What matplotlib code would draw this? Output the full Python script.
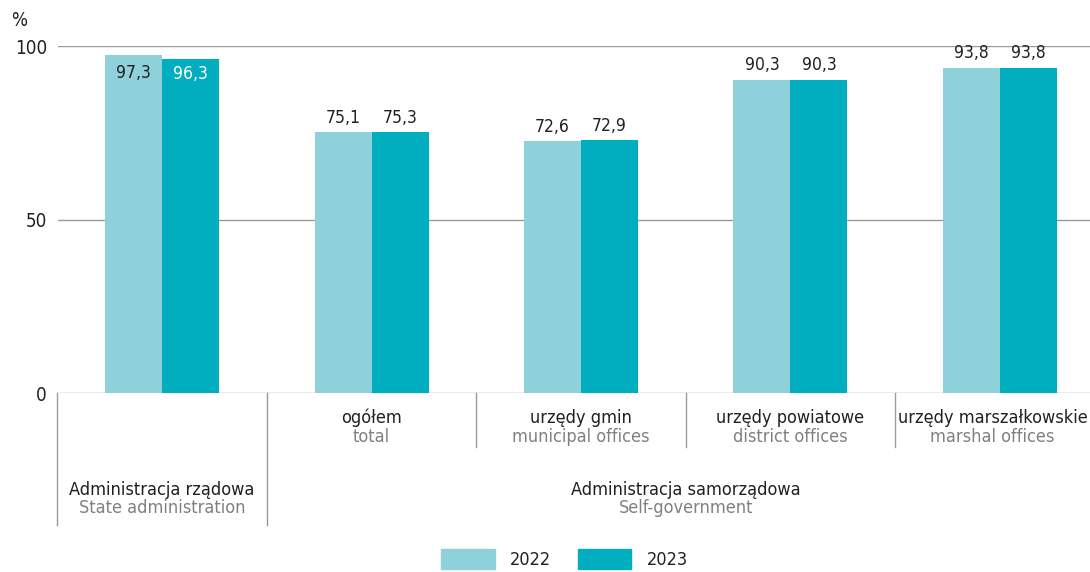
#! /usr/bin/env python3

"""Grouped bar chart: share of offices, 2022 vs 2023"""

import matplotlib
matplotlib.use("Agg")
import matplotlib.pyplot as plt
from matplotlib.patches import Patch

# data
categories_pl = ["", "ogółem", "urzędy gmin", "urzędy powiatowe", "urzędy marszałkowskie"]
categories_en = ["", "total", "municipal offices", "district offices", "marshal offices"]
groups_pl = ["Administracja rządowa", "Administracja samorządowa"]
groups_en = ["State administration", "Self-government"]
years = ["2022", "2023"]
values_2022 = [97.3, 75.1, 72.6, 90.3, 93.8]
values_2023 = [96.3, 75.3, 72.9, 90.3, 93.8]
y_ticks = [0, 50, 100]

LIGHT = "#8fd1da"
DARK = "#00aebf"
GRID = "#9a9a9a"
TEXT = "#231f20"
SUB = "#808080"

plt.rcParams["font.family"] = ["DejaVu Sans"]
plt.rcParams["font.stretch"] = "condensed"
FS = 13       # category labels, legend
FS_VAL = 12.5  # bar value labels
FS_TICK = 13.5


def fmt(v):
    return f"{v:.1f}".replace(".", ",")


def main():
    fig = plt.figure(figsize=(10.9, 5.72), dpi=100)
    ax = fig.add_axes([0.0532, 0.3129, 0.9468, 0.6066])

    x = list(range(len(values_2022)))
    w = 0.272
    x_lo, x_hi = -0.497, 4.43
    ax.bar([i - w / 2 for i in x], values_2022, width=w, color=LIGHT, zorder=3)
    ax.bar([i + w / 2 for i in x], values_2023, width=w, color=DARK, zorder=3)

    # value labels: inside the bars for the first group, above for the rest
    for i in x:
        if i == 0:
            ax.text(i - w / 2, values_2022[i] - 5, fmt(values_2022[i]), ha="center",
                    va="center", fontsize=FS_VAL, color=TEXT, zorder=4)
            ax.text(i + w / 2, values_2023[i] - 4.3, fmt(values_2023[i]), ha="center",
                    va="center", fontsize=FS_VAL, color="white", zorder=4)
        else:
            ax.text(i - w / 2, values_2022[i] + 1.5, fmt(values_2022[i]), ha="center",
                    va="bottom", fontsize=FS_VAL, color=TEXT)
            ax.text(i + w / 2, values_2023[i] + 1.5, fmt(values_2023[i]), ha="center",
                    va="bottom", fontsize=FS_VAL, color=TEXT)

    ax.set_ylim(0, 100)
    ax.set_xlim(x_lo, x_hi)
    ax.set_yticks(y_ticks)
    ax.set_yticklabels([str(t) for t in y_ticks], fontsize=FS_TICK, color=TEXT)
    ax.tick_params(axis="y", length=0, pad=8)
    ax.set_xticks([])
    for t in y_ticks:
        ax.axhline(t, color=GRID, linewidth=1.0, zorder=1)
    for s in ax.spines.values():
        s.set_visible(False)
    ax.text(-0.038, 1.045, "%", transform=ax.transAxes, ha="center", va="bottom",
            fontsize=FS_TICK, color=TEXT)

    # category separators and labels below the axis
    tr = ax.get_xaxis_transform()
    ax.plot([-0.5, -0.5], [0, -0.38], transform=tr, color=GRID, lw=1.0, clip_on=False)
    ax.plot([0.5, 0.5], [0, -0.38], transform=tr, color=GRID, lw=1.0, clip_on=False)
    for b in [1.5, 2.5, 3.5]:
        ax.plot([b, b], [0, -0.156], transform=tr, color=GRID, lw=1.0, clip_on=False)

    # labels are centred in their cell (the last cell is cut by the axis edge)
    for i in x[1:]:
        cx = (max(i - 0.5, x_lo) + min(i + 0.5, x_hi)) / 2
        ax.text(cx, -0.072, categories_pl[i], transform=tr, ha="center", va="center",
                fontsize=FS, color=TEXT)
        ax.text(cx, -0.127, categories_en[i], transform=tr, ha="center", va="center",
                fontsize=FS, color=SUB)

    for gx, pl, en in zip([0, 2.5], groups_pl, groups_en):
        ax.text(gx, -0.28, pl, transform=tr, ha="center", va="center",
                fontsize=FS, color=TEXT)
        ax.text(gx, -0.331, en, transform=tr, ha="center", va="center",
                fontsize=FS, color=SUB)

    # legend
    handles = [Patch(color=LIGHT), Patch(color=DARK)]
    fig.legend(handles, years, loc="center", bbox_to_anchor=(0.518, 0.022), ncol=2,
               frameon=False, fontsize=FS, handlelength=2.95, handleheight=1.3,
               columnspacing=1.5, handletextpad=0.85, labelcolor=TEXT)

    fig.savefig("out.png", dpi=100)


if __name__ == "__main__":
    main()
